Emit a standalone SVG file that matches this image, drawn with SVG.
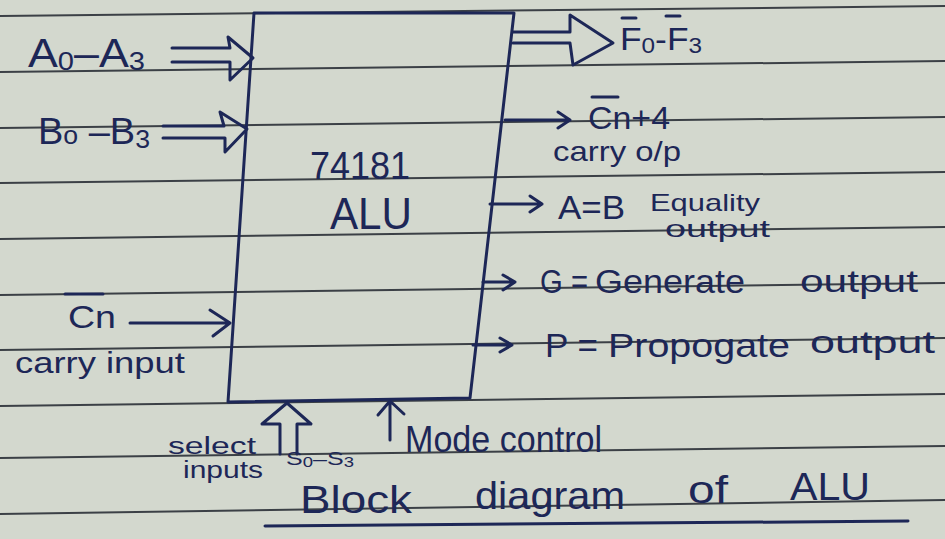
<svg xmlns="http://www.w3.org/2000/svg" width="945" height="539" viewBox="0 0 945 539">
<style>
.ink{fill:none;stroke:#1d2757;stroke-width:3;stroke-linecap:round;stroke-linejoin:round}
.rule{stroke:#3b4046;stroke-width:2}
text{font-family:"Liberation Sans","DejaVu Sans",sans-serif;fill:#1d2757}
</style>
<rect width="945" height="539" fill="#d3d8ce"/>
<g id="ruled-lines">
<line class="rule" x1="0" y1="16" x2="945" y2="6"/>
<line class="rule" x1="0" y1="72" x2="945" y2="61"/>
<line class="rule" x1="0" y1="128" x2="945" y2="117"/>
<line class="rule" x1="0" y1="183" x2="945" y2="172"/>
<line class="rule" x1="0" y1="239" x2="945" y2="227"/>
<line class="rule" x1="0" y1="295" x2="945" y2="283"/>
<line class="rule" x1="0" y1="350" x2="945" y2="338"/>
<line class="rule" x1="0" y1="406" x2="945" y2="394"/>
<line class="rule" x1="0" y1="458" x2="945" y2="446"/>
<line class="rule" x1="0" y1="514" x2="945" y2="500"/>
</g>
<g id="alu">
<path class="ink" d="M254,13 L514,13 L470,398 L228,402 Z"/>
<text x="310" y="179" font-size="38" textLength="100" lengthAdjust="spacingAndGlyphs">74181</text>
<text x="330" y="229" font-size="44" textLength="82" lengthAdjust="spacingAndGlyphs">ALU</text>
</g>
<g id="input-a">
<text x="28" y="67" font-size="40" textLength="117" lengthAdjust="spacingAndGlyphs">A<tspan font-size="26" dy="3">0</tspan><tspan dy="-3">–A</tspan><tspan font-size="26" dy="3">3</tspan></text>
</g>
<g id="input-b">
<text x="38" y="144" font-size="37" textLength="112" lengthAdjust="spacingAndGlyphs">B<tspan font-size="26">o</tspan> –B<tspan font-size="26" dy="4">3</tspan></text>
</g>
<g id="input-cn">
<text x="68" y="328" font-size="32" textLength="48" lengthAdjust="spacingAndGlyphs">Cn</text>
<line class="ink" x1="65" y1="294" x2="103" y2="294"/>
<text x="15" y="373" font-size="30" textLength="170" lengthAdjust="spacingAndGlyphs">carry input</text>
</g>
<g id="output-f">
<text x="620" y="50" font-size="32" textLength="82" lengthAdjust="spacingAndGlyphs">F<tspan font-size="22" dy="3">0</tspan><tspan dy="-3">-F</tspan><tspan font-size="22" dy="3">3</tspan></text>
<line class="ink" x1="622" y1="18" x2="636" y2="18"/>
<line class="ink" x1="666" y1="16" x2="680" y2="16"/>
</g>
<g id="output-cn4">
<text x="588" y="129" font-size="31" textLength="82" lengthAdjust="spacingAndGlyphs">Cn+4</text>
<line class="ink" x1="592" y1="97" x2="618" y2="97"/>
<text x="553" y="161" font-size="28" textLength="128" lengthAdjust="spacingAndGlyphs">carry o/p</text>
</g>
<g id="output-aeqb">
<text x="558" y="219" font-size="33" textLength="67" lengthAdjust="spacingAndGlyphs">A=B</text>
<text x="650" y="211" font-size="24" textLength="110" lengthAdjust="spacingAndGlyphs">Equality</text>
<text x="665" y="237" font-size="24" textLength="105" lengthAdjust="spacingAndGlyphs">output</text>
</g>
<g id="output-g">
<text x="540" y="293" font-size="33" textLength="48" lengthAdjust="spacingAndGlyphs">G =</text>
<text x="595" y="293" font-size="33" textLength="150" lengthAdjust="spacingAndGlyphs">Generate</text>
<text x="800" y="292" font-size="31" textLength="118" lengthAdjust="spacingAndGlyphs">output</text>
</g>
<g id="output-p">
<text x="545" y="357" font-size="34" textLength="53" lengthAdjust="spacingAndGlyphs">P =</text>
<text x="608" y="357" font-size="34" textLength="182" lengthAdjust="spacingAndGlyphs">Propogate</text>
<text x="810" y="353" font-size="31" textLength="125" lengthAdjust="spacingAndGlyphs">output</text>
</g>
<g id="select-inputs">
<text x="168" y="454" font-size="23" textLength="88" lengthAdjust="spacingAndGlyphs">select</text>
<text x="183" y="478" font-size="23" textLength="80" lengthAdjust="spacingAndGlyphs">inputs</text>
<text x="286" y="465" font-size="19" textLength="68" lengthAdjust="spacingAndGlyphs">S<tspan font-size="14" dy="2">0</tspan><tspan dy="-2">–S</tspan><tspan font-size="14" dy="2">3</tspan></text>
</g>
<g id="mode-control">
<text x="405" y="452" font-size="36" textLength="197" lengthAdjust="spacingAndGlyphs">Mode control</text>
</g>
<g id="title">
<text x="300" y="513" font-size="39" textLength="112" lengthAdjust="spacingAndGlyphs">Block</text>
<text x="475" y="509" font-size="39" textLength="150" lengthAdjust="spacingAndGlyphs">diagram</text>
<text x="688" y="503" font-size="39" textLength="40" lengthAdjust="spacingAndGlyphs">of</text>
<text x="790" y="500" font-size="39" textLength="80" lengthAdjust="spacingAndGlyphs">ALU</text>
<line class="ink" x1="265" y1="526" x2="908" y2="521"/>
</g>
<g id="connectors">
<path class="ink" d="M172,48 L230,48 L228,37 L253,58 L230,80 L230,62 L172,62"/>
<path class="ink" d="M163,126 L224,126 L220,112 L247,129 L225,152 L225,138 L163,138"/>
<path class="ink" d="M130,323 L230,323 M210,310 L230,323 L213,336"/>
<path class="ink" d="M513,32 L570,32 L570,15 L613,43 L573,65 L570,43 L513,43"/>
<path class="ink" d="M505,120 L570,120 M558,112 L570,120 L558,128"/>
<path class="ink" d="M490,204 L542,204 M530,196 L542,204 L530,212"/>
<path class="ink" d="M483,282 L515,282 M503,275 L515,282 L503,290"/>
<path class="ink" d="M473,345 L512,345 M500,338 L512,345 L500,352"/>
<path class="ink" d="M280,454 L280,424 L262,424 L287,403 L311,424 L297,424 L297,454"/>
<path class="ink" d="M390,440 L390,401 M378,415 L390,401 L404,414"/>
</g>
</svg>
